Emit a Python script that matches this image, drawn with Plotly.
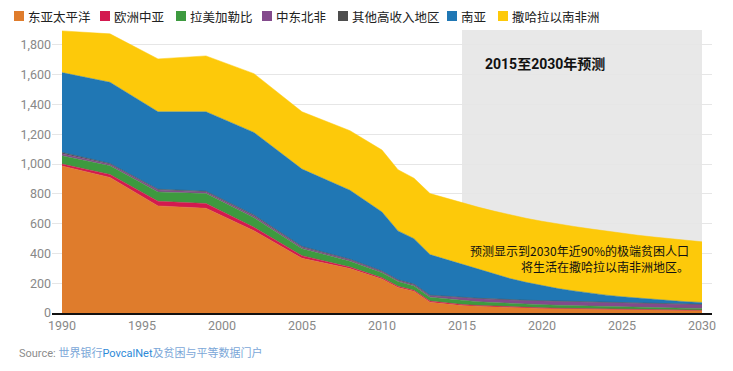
import plotly.graph_objects as go

# ---------------- data (millions of people in extreme poverty) ----------------
years = [1990, 1993, 1996, 1999, 2002, 2005, 2008, 2010, 2011, 2012, 2013, 2015,
         2016, 2017, 2018, 2019, 2020, 2021, 2022, 2023, 2024, 2025, 2026, 2027, 2028, 2029, 2030]
eap = [987, 910, 719, 703, 552, 367, 298, 228, 172, 146, 73, 50,
       45, 40, 36, 33, 30, 28, 26, 24, 22, 21, 20, 19, 18, 17, 16]
eca = [13, 20, 31, 32, 23, 18, 10, 8, 7, 6, 7, 7,
       6, 6, 5, 5, 5, 4, 4, 4, 4, 3, 3, 3, 3, 3, 3]
lac = [56, 58, 63, 67, 65, 47, 40, 34, 32, 30, 26, 26,
       25, 24, 23, 22, 21, 20, 19, 18, 17, 16, 15, 14, 13, 12, 12]
mena = [14, 11, 12, 11, 12, 10, 9, 8, 8, 8, 10, 16,
        19, 21, 22, 23, 24, 25, 25, 26, 26, 26, 26, 26, 26, 25, 25]
other = [8, 5, 6, 5, 6, 5, 4, 4, 4, 4, 4, 4,
         4, 4, 3, 3, 3, 3, 3, 3, 3, 3, 2, 2, 2, 2, 2]
sa = [536, 545, 520, 533, 554, 519, 463, 396, 328, 305, 272, 223,
      194, 166, 142, 120, 101, 84, 71, 58, 48, 40, 33, 27, 22, 17, 13]
ssa = [280, 325, 355, 375, 395, 385, 400, 416, 411, 406, 410, 413,
       418, 423, 427, 430, 432, 433, 433, 432, 430, 427, 423, 419, 415, 411, 407]

region_names = ["东亚太平洋", "欧洲中亚", "拉美加勒比", "中东北非", "其他高收入地区", "南亚", "撒哈拉以南非洲"]
series = [eap, eca, lac, mena, other, sa, ssa]
colors = ["#df7c2c", "#d3194f", "#3d9a3f", "#834a8c", "#4d4d4d", "#2077b4", "#fdc90a"]

x_ticks = [1990, 1995, 2000, 2005, 2010, 2015, 2020, 2025, 2030]
y_ticks = [0, 200, 400, 600, 800, 1000, 1200, 1400, 1600, 1800]

forecast_label = "2015至2030年预测"
note_text = "预测显示到2030年近90%的极端贫困人口<br>将生活在撒哈拉以南非洲地区。"

# ---------------- geometry (window pixels; page body has an 8px margin) ----------------
OFF = 8
W, H = 733 - OFF, 371 - OFF
# desired plot area in window coords: x 52..712, y 30..313
ML, MT = 52 - OFF, 30 - OFF
MR = W - (712 - OFF)
MB = H - (313 - OFF)
PW, PH = W - ML - MR, H - MT - MB

def px(xp):
    # window x pixel -> paper x
    return (xp - OFF - ML) / PW

def py(yp):
    # window y pixel -> paper y
    return (H - MB - (yp - OFF)) / PH

CJK = "Noto Sans CJK SC"

fig = go.Figure()
for name, vals, col in zip(region_names, series, colors):
    fig.add_trace(go.Scatter(
        x=years, y=vals, name=name, mode="lines", stackgroup="one",
        line=dict(width=0.5, color=col), fillcolor=col, showlegend=False,
        hoverinfo="x+y+name",
    ))

shapes = [dict(type="rect", xref="x", yref="paper", x0=2015, x1=2030, y0=0, y1=1,
               fillcolor="#e8e8e8", line=dict(width=0), layer="below")]
annotations = []

# manual legend
sq_left = [14, 100, 176, 262, 338, 447, 498]
for name, col, xl in zip(region_names, colors, sq_left):
    shapes.append(dict(type="rect", xref="paper", yref="paper",
                       x0=px(xl), x1=px(xl + 10), y0=py(21), y1=py(11),
                       fillcolor=col, line=dict(width=0)))
    annotations.append(dict(xref="paper", yref="paper", x=px(xl + 12), y=py(16),
                            xanchor="left", yanchor="middle", showarrow=False,
                            text=name, font=dict(family=CJK, size=12.5, color="#222")))

annotations.append(dict(xref="x", yref="y", x=2020.2, y=1672, showarrow=False,
                        text="<b>" + forecast_label + "</b>",
                        font=dict(family="Roboto, " + CJK, size=14, color="#111")))
annotations.append(dict(xref="x", yref="y", x=2029.3, y=369, showarrow=False,
                        xanchor="right", align="right", text=note_text,
                        font=dict(family=CJK, size=12, color="#111")))
annotations.append(dict(xref="paper", yref="paper", x=px(17), y=py(353),
                        xanchor="left", yanchor="middle", showarrow=False,
                        text="<span style='color:#8c8c8c'>Source: </span>"
                             "<span style='color:#7ba7d8'>世界银行</span>"
                             "<span style='color:#2e8ad8'>PovcalNet</span>"
                             "<span style='color:#7ba7d8'>及贫困与平等数据门户</span>",
                        font=dict(family="Roboto, " + CJK, size=11)))

fig.update_layout(
    width=W, height=H,
    margin=dict(l=ML, r=MR, t=MT, b=MB),
    paper_bgcolor="white", plot_bgcolor="white",
    showlegend=False,
    shapes=shapes, annotations=annotations,
    xaxis=dict(range=[1989.375, 2030.625], tickvals=x_ticks, showgrid=False,
               showline=True, linecolor="#111", linewidth=2, zeroline=False,
               ticks="", tickfont=dict(family="Roboto", size=12.5, color="#888")),
    yaxis=dict(range=[0, 1900], tickvals=y_ticks, tickformat=",d", showgrid=True,
               gridcolor="#e6e6e6", gridwidth=1, zeroline=False, showline=False,
               ticks="", tickfont=dict(family="Roboto", size=12.5, color="#888")),
)

fig.write_html("out.html")
